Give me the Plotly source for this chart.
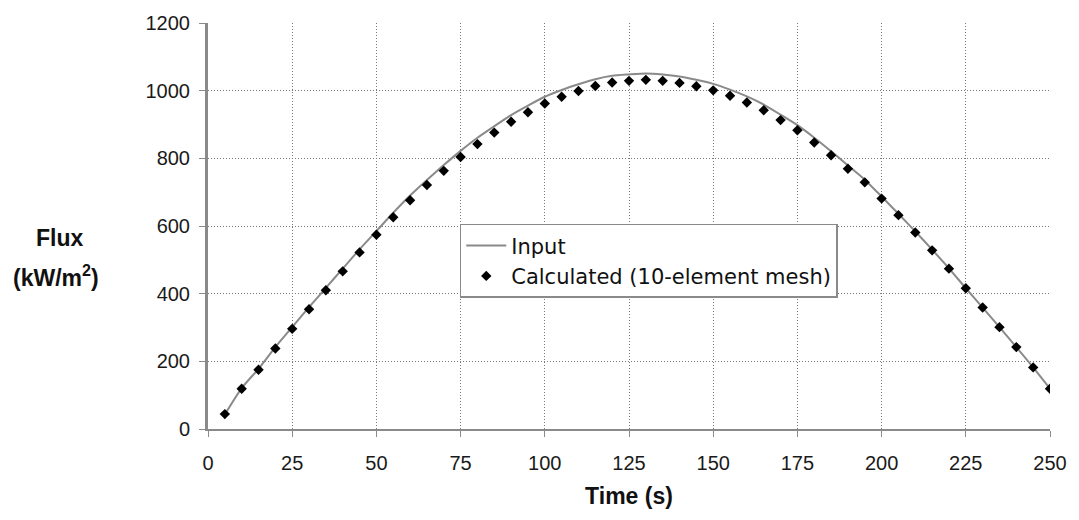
import plotly.graph_objects as go

# Time samples (s)
time_s = [5, 10, 15, 20, 25, 30, 35, 40, 45, 50,
          55, 60, 65, 70, 75, 80, 85, 90, 95, 100,
          105, 110, 115, 120, 125, 130, 135, 140, 145, 150,
          155, 160, 165, 170, 175, 180, 185, 190, 195, 200,
          205, 210, 215, 220, 225, 230, 235, 240, 245, 250]

# Prescribed (input) heat flux, kW/m^2
flux_input = [43, 121, 178, 242, 301, 360, 417, 474, 531, 585,
              639, 690, 736, 780, 822, 861, 895, 928, 956, 982,
              1002, 1019, 1034, 1044, 1048, 1051, 1048, 1042, 1032, 1020,
              1003, 983, 959, 929, 898, 861, 821, 779, 737, 687,
              636, 584, 530, 475, 416, 359, 301, 242, 182, 119]

# Flux recovered with the 10-element mesh, kW/m^2
flux_calc = [44, 119, 175, 238, 296, 354, 410, 466, 522, 574,
             626, 676, 721, 763, 804, 842, 876, 908, 936, 962,
             982, 999, 1014, 1024, 1029, 1032, 1029, 1023, 1013, 1001,
             985, 965, 942, 913, 883, 847, 809, 769, 729, 681,
             632, 581, 528, 474, 416, 359, 301, 242, 182, 119]

x_ticks = [0, 25, 50, 75, 100, 125, 150, 175, 200, 225, 250]
y_ticks = [0, 200, 400, 600, 800, 1000, 1200]

TICK_FONT = dict(family="Liberation Sans, Arial, sans-serif", size=20, color="#1a1a1a")
TITLE_FONT = dict(family="Liberation Sans, Arial, sans-serif", size=23, color="#111111")
GRID = "#7a7a7a"
GRID_DASH = "1px,2px"

fig = go.Figure()

fig.add_trace(go.Scatter(
    x=time_s, y=flux_input, name="Input", mode="lines",
    line=dict(color="#8a8a8a", width=2, shape="spline", smoothing=0.6),
))
fig.add_trace(go.Scatter(
    x=time_s, y=flux_calc, name="Calculated (10-element mesh)", mode="markers",
    marker=dict(symbol="diamond", size=8, color="#000000"),
))

fig.update_xaxes(
    range=[0, 250], tickvals=x_ticks, ticktext=[str(v) for v in x_ticks],
    showgrid=True, gridcolor=GRID, griddash=GRID_DASH, gridwidth=1,
    showline=True, linecolor="#8a8a8a", linewidth=2,
    ticks="outside", ticklen=6, tickcolor="#8a8a8a", tickwidth=1,
    ticklabelstandoff=9, tickfont=TICK_FONT, zeroline=False,
    title=dict(text="<b>Time (s)</b>", font=TITLE_FONT, standoff=15),
)
fig.update_yaxes(
    range=[0, 1200], tickvals=y_ticks, ticktext=[str(v) for v in y_ticks],
    showgrid=True, gridcolor=GRID, griddash=GRID_DASH, gridwidth=1,
    showline=True, linecolor="#8a8a8a", linewidth=3,
    ticks="outside", ticklen=6, tickcolor="#8a8a8a", tickwidth=1,
    ticklabelstandoff=5, tickfont=TICK_FONT, zeroline=False,
)

# Two-line y-axis caption, placed to the left of the tick labels
fig.add_annotation(text="<b>Flux</b>", xref="paper", yref="paper",
                   x=-0.176, y=0.47, xanchor="center", yanchor="middle",
                   showarrow=False, font=TITLE_FONT)
fig.add_annotation(text="<b>(kW/m<sup>2</sup>)</b>", xref="paper", yref="paper",
                   x=-0.180, y=0.378, xanchor="center", yanchor="middle",
                   showarrow=False, font=TITLE_FONT)

fig.update_layout(
    width=1079, height=520,
    margin=dict(l=208, r=21, t=16, b=91),
    paper_bgcolor="white", plot_bgcolor="white",
    showlegend=True,
    legend=dict(
        x=0.299, y=0.505, xanchor="left", yanchor="top",
        bgcolor="white", bordercolor="#8a8a8a", borderwidth=1.5,
        font=dict(family="DejaVu Sans, Verdana, sans-serif", size=21, color="#111111"),
        itemwidth=40,
    ),
)

fig.write_html("out.html")
